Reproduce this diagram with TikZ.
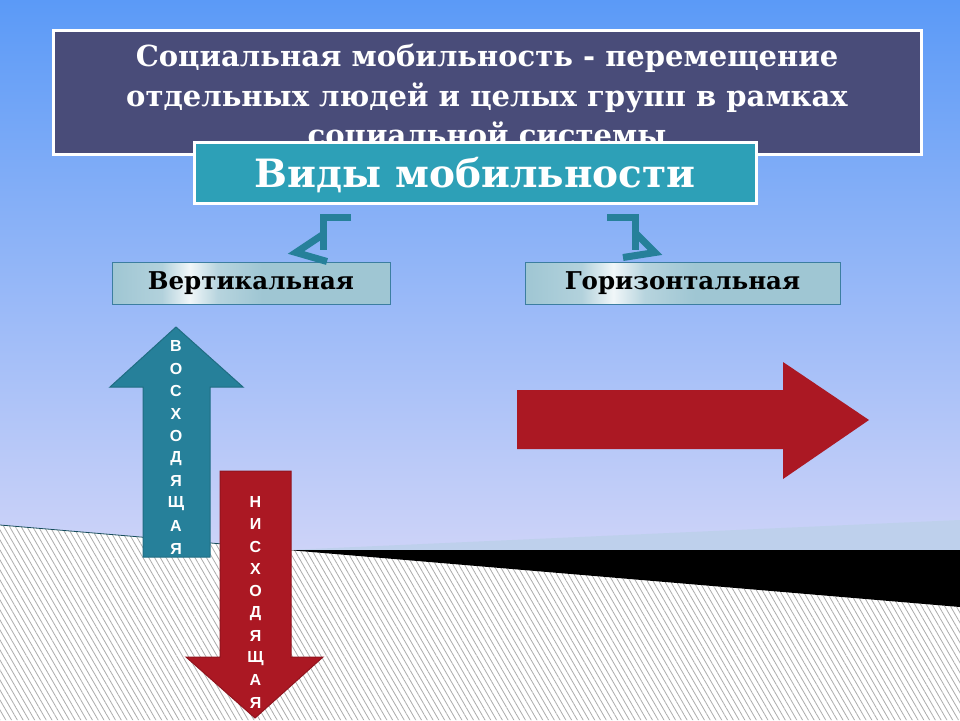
\documentclass[tikz,border=0pt]{standalone}
\usepackage{fontspec}
\setmainfont{DejaVu Serif}
\newfontfamily\lettersf{Liberation Sans}
\usetikzlibrary{patterns.meta}
\definecolor{skytop}{HTML}{5B9AF7}
\definecolor{skybot}{HTML}{CFD4F8}
\definecolor{bandblue}{HTML}{BED0EC}
\definecolor{slate}{HTML}{494C79}
\definecolor{typesfill}{HTML}{2DA0B7}
\definecolor{tealdark}{HTML}{26809A}
\definecolor{boxfill}{HTML}{9FC6D3}
\definecolor{boxline}{HTML}{3C7EA0}
\definecolor{redarrow}{HTML}{AB1823}
\pgfdeclarehorizontalshading{sheen}{100bp}{color(0bp)=(boxfill); color(25bp)=(boxfill);
  color(34bp)=(boxfill!80!white); color(39bp)=(white!85!boxfill);
  color(44bp)=(boxfill!75!white); color(52bp)=(boxfill); color(100bp)=(boxfill)}
\begin{document}
\begin{tikzpicture}[x=1pt, y=-1pt,
    box/.style={draw=boxline, line width=1pt, shading=sheen,
      font=\bfseries\fontsize{24.5}{26}\selectfont, minimum height=42pt},
    link/.style={draw=tealdark, line width=7pt},
    letter/.style={text=white, inner sep=0pt,
      font=\lettersf\bfseries\fontsize{16}{16}\selectfont}]
  \useasboundingbox (0,0) rectangle (960,720);
  % sky and ground
  \shade[top color=skytop, bottom color=skybot] (0,0) rectangle (960,560);
  \fill[white] (0,525) -- (960,607) -- (960,720) -- (0,720) -- cycle;
  \fill[pattern={Lines[angle=-60, distance=5pt, line width=0.8pt]},
    pattern color=gray!65] (0,525) -- (960,607) -- (960,720) -- (0,720) -- cycle;
  \fill[bandblue] (288,550) -- (960,520) -- (960,550) -- cycle;
  \fill[black] (288,550) -- (960,550) -- (960,607) -- cycle;
  \draw[tealdark!60!black, line width=0.8pt] (0,525) -- (288,549.6);

  % definition and types
  \node[draw=white, line width=3pt, fill=slate, minimum width=868pt,
    minimum height=124pt, text=white, align=center,
    font=\bfseries\fontsize{29}{39.5}\selectfont] (def) at (487,92.5)
    {\rule{0pt}{32pt}Социальная мобильность - перемещение\\отдельных людей и целых групп в рамках\\социальной системы};
  \node[draw=white, line width=3pt, fill=typesfill, minimum width=562pt,
    minimum height=61pt, text=white, text depth=0pt,
    font=\bfseries\fontsize{39}{39}\selectfont] (types) at (475,172.5) {Виды мобильности};

  \node[box, minimum width=278pt] (vert) at (251,283) {Вертикальная};
  \node[box, minimum width=315pt] (horiz) at (682.5,283) {Горизонтальная};

  % bent links
  \draw[link] ([xshift=-124pt,yshift=-13pt]types.south)
    -| ([xshift=72pt,yshift=12pt]vert.north);
  \draw[link] ([xshift=72pt,yshift=27pt]vert.north)
    -- ([xshift=45pt,yshift=9pt]vert.north) -- ([xshift=76pt]vert.north);
  \draw[link] ([xshift=132pt,yshift=-13pt]types.south)
    -| ([xshift=-47.5pt,yshift=12pt]horiz.north);
  \draw[link] ([xshift=-47.5pt,yshift=29pt]horiz.north)
    -- ([xshift=-27.5pt,yshift=9pt]horiz.north) -- ([xshift=-59.5pt,yshift=4pt]horiz.north);

  % block arrows
  \filldraw[fill=tealdark, draw=tealdark!85!black, line width=1pt]
    (143,557) -- (143,387) -- (110,387) -- (176,327) -- (243,387)
    -- (210,387) -- (210,557) -- cycle;
  \foreach \ch [count=\i from 0] in {В,О,С,Х,О,Д,Я,Щ,А,Я}
    \node[letter] (up\i) at (176,{346+22.5*\i}) {\ch};
  \filldraw[fill=redarrow, draw=redarrow!85!black, line width=1pt]
    (220,471) -- (291,471) -- (291,657) -- (323,657) -- (255,718)
    -- (186,657) -- (220,657) -- cycle;
  \foreach \ch [count=\i from 0] in {Н,И,С,Х,О,Д,Я,Щ,А,Я}
    \node[letter] (down\i) at (255.5,{502+22.3*\i}) {\ch};
  \fill[redarrow] (517,390) -- (783,390) -- (783,362) -- (869,420)
    -- (783,479) -- (783,449) -- (517,449) -- cycle;
\end{tikzpicture}
\end{document}
